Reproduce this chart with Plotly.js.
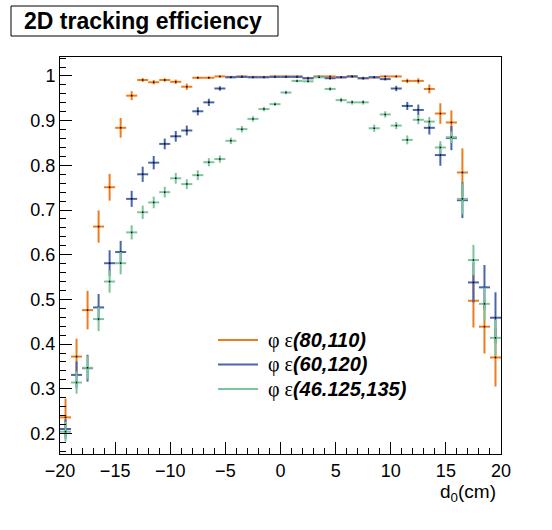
<!DOCTYPE html>
<html>
<head>
<meta charset="utf-8">
<script src="https://cdn.plot.ly/plotly-3.0.1.min.js"></script>
<style>html,body{margin:0;padding:0;background:#fff;}#chart{width:552px;height:530px;}</style>
</head>
<body>
<div id="chart"></div>
<script>
// d0 bin centres (cm)
const d0 = [-19.5,-18.5,-17.5,-16.5,-15.5,-14.5,-13.5,-12.5,-11.5,-10.5,-9.5,-8.5,-7.5,-6.5,-5.5,-4.5,-3.5,-2.5,-1.5,-0.5,
            0.5,1.5,2.5,3.5,4.5,5.5,6.5,7.5,8.5,9.5,10.5,11.5,12.5,13.5,14.5,15.5,16.5,17.5,18.5,19.5];
const binHalfWidth = 0.5;

const seriesNames = ["(80,110)", "(60,120)", "(46.125,135)"];

const eff80_110 = [0.236,0.372,0.476,0.663,0.751,0.884,0.956,0.991,0.986,0.991,0.987,0.976,0.996,0.996,0.999,0.998,0.999,0.998,0.998,0.999,
                   0.999,0.999,0.995,0.999,0.999,0.997,0.999,0.995,0.997,0.999,0.999,0.989,0.989,0.971,0.916,0.896,0.784,0.497,0.439,0.370];
const err80_110 = [0.042,0.040,0.043,0.036,0.030,0.022,0.010,0.004,0.005,0.004,0.005,0.007,0.003,0.003,0.002,0.002,0.002,0.002,0.002,0.002,
                   0.002,0.002,0.003,0.002,0.002,0.002,0.002,0.003,0.002,0.002,0.002,0.005,0.006,0.010,0.023,0.027,0.054,0.060,0.060,0.065];

const eff60_120 = [0.210,0.331,0.346,0.482,0.581,0.606,0.725,0.780,0.806,0.848,0.865,0.878,0.921,0.941,0.972,0.997,0.998,0.997,0.997,0.998,
                   0.998,0.998,0.995,0.998,0.995,0.997,0.999,0.995,0.997,0.993,0.972,0.933,0.924,0.884,0.823,0.861,0.722,0.538,0.527,0.459];
const err60_120 = [0.022,0.030,0.030,0.030,0.029,0.025,0.018,0.017,0.015,0.012,0.012,0.011,0.009,0.008,0.005,0.002,0.002,0.002,0.002,0.002,
                   0.002,0.002,0.003,0.002,0.003,0.002,0.002,0.003,0.002,0.003,0.006,0.009,0.012,0.015,0.024,0.027,0.040,0.045,0.050,0.057];

const eff46_135 = [0.204,0.314,0.347,0.456,0.540,0.581,0.650,0.695,0.717,0.740,0.771,0.758,0.778,0.807,0.814,0.855,0.881,0.904,0.926,0.937,
                   0.963,0.989,0.988,0.997,0.971,0.946,0.941,0.941,0.883,0.914,0.889,0.857,0.902,0.898,0.840,0.863,0.725,0.588,0.490,0.414];
const err46_135 = [0.022,0.025,0.026,0.027,0.025,0.025,0.016,0.015,0.013,0.012,0.012,0.011,0.011,0.009,0.008,0.007,0.007,0.006,0.005,0.004,
                   0.004,0.003,0.003,0.002,0.004,0.005,0.005,0.005,0.008,0.007,0.008,0.010,0.010,0.010,0.014,0.013,0.035,0.034,0.037,0.040];

const xTicks = [-20,-15,-10,-5,0,5,10,15,20];

const colors = ["#ef7b1c", "#4a66aa", "#7cc49c"];
const effs = [eff80_110, eff60_120, eff46_135];
const errs = [err80_110, err60_120, err46_135];

// plot area geometry (px)
const W = 552, H = 530, L = 60, R = 51, T = 57, B = 76;
const pw = W - L - R, ph = H - T - B;
const px2x = p => (p - L) / pw;
const py2y = p => (H - B - p) / ph;

const traces = effs.map((e, i) => ({
  type: "scatter", mode: "markers", x: d0, y: e, name: seriesNames[i], showlegend: false,
  marker: {color: "#000", size: 1.5, symbol: "square"},
  error_x: {type: "constant", value: binHalfWidth, color: colors[i], thickness: 2, width: 0},
  error_y: {type: "data", array: errs[i], color: colors[i], thickness: 2, width: 0}
}));

const shapes = [
  {type: "rect", xref: "paper", yref: "paper", x0: px2x(11), x1: px2x(278), y0: py2y(36), y1: py2y(6),
   line: {color: "#000", width: 1}, fillcolor: "#fff", layer: "above"}
];
const annotations = [
  {xref: "paper", yref: "paper", x: px2x(22), y: py2y(21), xanchor: "left", yanchor: "middle", showarrow: false,
   text: "<b>2D tracking efficiency</b>", font: {family: "Liberation Sans, Arial", size: 23, color: "#000"}},
  {xref: "paper", yref: "paper", x: px2x(498), y: py2y(493), xanchor: "right", yanchor: "middle", showarrow: false,
   text: "d<sub>0</sub>(cm)", font: {family: "Liberation Sans, Arial", size: 19, color: "#000"}}
];
const legY = [340, 364.5, 389];
seriesNames.forEach((n, i) => {
  shapes.push({type: "line", xref: "paper", yref: "paper", x0: px2x(218), x1: px2x(258), y0: py2y(legY[i]), y1: py2y(legY[i]),
               line: {color: colors[i], width: 2}});
  annotations.push({xref: "paper", yref: "paper", x: px2x(266), y: py2y(legY[i]), xanchor: "left", yanchor: "middle", showarrow: false,
    text: "<span style='font-family:Liberation Serif'>φ ε</span><b><i>" + n + "</i></b>",
    font: {family: "Liberation Sans, Arial", size: 20, color: "#000"}});
});

const axisCommon = {
  showline: true, mirror: true, linecolor: "#000", linewidth: 1, showgrid: false, zeroline: false,
  ticks: "inside", ticklen: 12, tickwidth: 1, tickcolor: "#000",
  tickfont: {family: "Liberation Sans, Arial", size: 18, color: "#000"}
};

const layout = {
  width: W, height: H, margin: {l: L, r: R, t: T, b: B, pad: 0},
  paper_bgcolor: "#fff", plot_bgcolor: "#fff", showlegend: false,
  xaxis: Object.assign({}, axisCommon, {range: [-20, 20], tickvals: xTicks, ticktext: xTicks.map(v => v < 0 ? "\u2212" + (-v) : String(v)),
    minor: {dtick: 1, tick0: 0, ticks: "inside", ticklen: 6, tickcolor: "#000", tickwidth: 1, showgrid: false}}),
  yaxis: Object.assign({}, axisCommon, {range: [0.154, 1.0425], dtick: 0.1, tick0: 0,
    minor: {dtick: 0.02, tick0: 0, ticks: "inside", ticklen: 6, tickcolor: "#000", tickwidth: 1, showgrid: false}}),
  shapes: shapes, annotations: annotations
};

Plotly.newPlot("chart", traces, layout, {displayModeBar: false, staticPlot: true});
</script>
</body>
</html>
